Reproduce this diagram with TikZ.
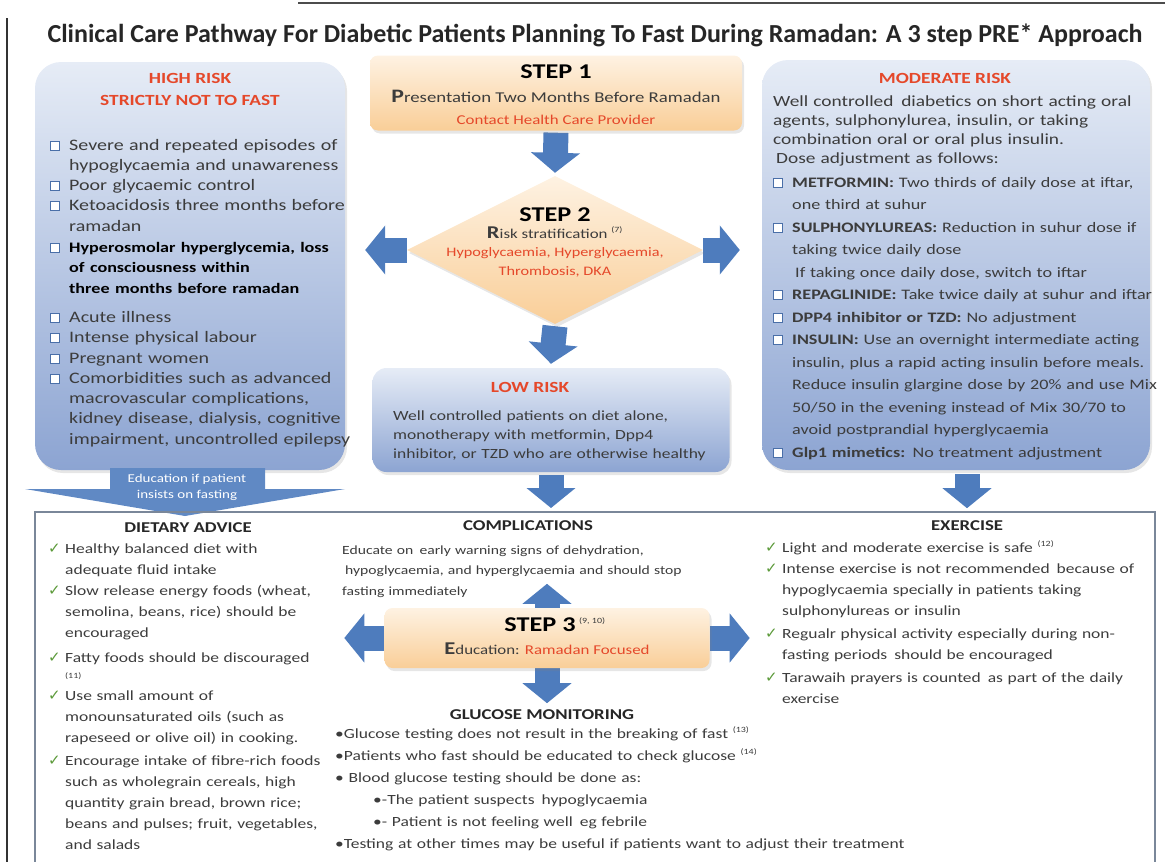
\documentclass[tikz,border=0pt]{standalone}
\usepackage{fontspec}
\setmainfont{Carlito}[FakeStretch=1.25]
\newfontfamily\titlefont{Carlito}
\newfontfamily\symfont{DejaVu Sans}
\usetikzlibrary{arrows.meta,shapes.geometric,shadows}
\pgfdeclarelayer{background}
\pgfsetlayers{background,main}

\definecolor{riskred}{HTML}{E5482A}
\definecolor{arrowblue}{HTML}{4E7CBD}
\definecolor{bluetop}{HTML}{E6ECF6}
\definecolor{bluebot}{HTML}{8CA4D2}
\definecolor{peachtop}{HTML}{FEF2E2}
\definecolor{peachbot}{HTML}{F9CE98}
\definecolor{bodytext}{HTML}{3C3C3C}
\definecolor{checkgreen}{HTML}{5C9A3A}
\definecolor{cbframe}{HTML}{4A6FA8}
\definecolor{framegray}{HTML}{7A8799}

\newcommand\fs[2]{\fontsize{#1}{#2}\selectfont}
\newcommand\cb{\raisebox{0.5pt}{\setlength\fboxsep{0pt}\setlength\fboxrule{1pt}\fcolorbox{cbframe}{white}{\rule{0pt}{8pt}\rule{8pt}{0pt}}}}
\newcommand\cbi{\makebox[19pt][l]{\cb}}
\newcommand\indw{\hspace*{19pt}}
\newcommand\ck{\makebox[17pt][l]{\symfont\fs{15}{15}\color{checkgreen}✓}}
\newcommand\refno[1]{\textsuperscript{\fs{8}{8}(#1)}}

\begin{document}
\begin{tikzpicture}[x=1pt,y=-1pt,
  bluebox/.style={rounded corners=26pt, top color=bluetop, bottom color=bluebot,
    drop shadow={opacity=0.2, shadow xshift=2pt, shadow yshift=-3pt}},
  peachbox/.style={rounded corners=8pt, top color=peachtop, bottom color=peachbot,
    drop shadow={opacity=0.2, shadow xshift=2pt, shadow yshift=-3pt}},
  blockarrow/.style={draw=arrowblue, line width=25pt, -{Triangle[width=48pt, length=20pt]}},
  body/.style={anchor=base west, align=left, text width=420pt, inner sep=0pt, text=bodytext},
  hdr/.style={anchor=base, inner sep=0pt, font=\bfseries\fs{15}{15}, text=black!85},
  redhdr/.style={hdr, font=\bfseries\fs{15.5}{15.5}, text=riskred},
  stephdr/.style={anchor=base, inner sep=0pt, font=\bfseries\fs{21}{21}, text=black},
  steptext/.style={anchor=base, inner sep=0pt, font=\fs{15}{15}, text=bodytext}]
\useasboundingbox (0,0) rectangle (1165,862);

% page lines and title
\draw[black!70, line width=2.5pt] (298,3) -- (1165,3);
\draw[black!80, line width=1.5pt] (7,18) -- (7,862);
\node[anchor=base, inner sep=0pt, font=\titlefont\bfseries\fs{26}{26}, text=black!85] (title) at (595,42)
  {Clinical Care Pathway For Diabetic Patients Planning To Fast During Ramadan: A 3 step PRE* Approach};

% boxes
\node[bluebox, minimum width=310pt, minimum height=408pt] (high) at (190,266) {};
\node[bluebox, minimum width=388pt, minimum height=410pt] (moderate) at (956,265) {};
\node[bluebox, rounded corners=14pt, minimum width=357pt, minimum height=104pt] (low) at (551,420) {};
\node[peachbox, minimum width=372pt, minimum height=75pt] (step1) at (556,93) {};
\node[diamond, top color=peachtop, bottom color=peachbot, minimum width=296pt, minimum height=148pt,
  drop shadow={opacity=0.2, shadow xshift=2pt, shadow yshift=-3pt}] (step2) at (555,250) {};
\node[peachbox, minimum width=325pt, minimum height=60pt] (step3) at (547,638) {};

% step texts
\node[stephdr] (s1head) at (556,78) {STEP 1};
\node[steptext] (s1text) at (556,102) {{\bfseries\fs{19}{19}P}resentation Two Months Before Ramadan};
\node[steptext, font=\fs{13.5}{13.5}, text=riskred] (s1sub) at (556,124) {Contact Health Care Provider};
\node[stephdr] (s2head) at (555,221) {STEP 2};
\node[steptext, font=\fs{13.5}{13.5}] (s2text) at (555,238) {{\bfseries\fs{18}{18}R}isk stratification \refno{7}};
\node[steptext, font=\fs{13}{13}, text=riskred] (s2risk) at (555,256) {Hypoglycaemia, Hyperglycaemia,};
\node[steptext, font=\fs{13}{13}, text=riskred] (s2dka) at (555,275) {Thrombosis, DKA};
\node[stephdr] (s3head) at (555,631) {STEP 3\,\textcolor{bodytext}{\mdseries\refno{9, 10}}};
\node[steptext, font=\fs{13.5}{13.5}] (s3text) at (547,654) {{\bfseries\fs{18}{18}E}ducation: \textcolor{riskred}{Ramadan Focused}};

% high risk
\node[redhdr] (hrhead) at (190,83) {HIGH RISK};
\node[redhdr] (hrsub) at (190,105) {STRICTLY NOT TO FAST};
\node[body, font=\fs{16}{20.3}] (hrlist) at (50,150) {%
  \cbi Severe and repeated episodes of\\
  \indw hypoglycaemia and unawareness\\
  \cbi Poor glycaemic control\\
  \cbi Ketoacidosis three months before\\
  \indw ramadan\\[1pt]
  \cbi {\fs{14.5}{20.3}\bfseries\color{black}Hyperosmolar hyperglycemia, loss}\\
  \indw {\fs{14.5}{20.3}\bfseries\color{black}of consciousness within}\\
  \indw {\fs{14.5}{20.3}\bfseries\color{black}three months before ramadan}\\[9pt]
  \cbi Acute illness\\
  \cbi Intense physical labour\\
  \cbi Pregnant women\\
  \cbi Comorbidities such as advanced\\
  \indw macrovascular complications,\\
  \indw kidney disease, dialysis, cognitive\\
  \indw impairment, uncontrolled epilepsy};

% moderate risk
\node[redhdr] (mrhead) at (945,83) {MODERATE RISK};
\node[body, font=\fs{15.5}{19.3}] (mrintro) at (773,106) {%
  Well controlled\, diabetics on short acting oral\\
  agents, sulphonylurea, insulin, or taking\\
  combination oral or oral plus insulin.\\
  \hspace*{3pt}Dose adjustment as follows:};
\node[body, font=\fs{14.5}{22.5}] (mrlist) at (773,187) {%
  \cbi \textbf{METFORMIN:} Two thirds of daily dose at iftar,\\
  \indw one third at suhur\\
  \cbi \textbf{SULPHONYLUREAS:} Reduction in suhur dose if\\
  \indw taking twice daily dose\\
  \hspace*{22pt}If taking once daily dose, switch to iftar\\
  \cbi \textbf{REPAGLINIDE:} Take twice daily at suhur and iftar\\
  \cbi \textbf{DPP4 inhibitor or TZD:} No adjustment\\
  \cbi \textbf{INSULIN:} Use an overnight intermediate acting\\
  \indw insulin, plus a rapid acting insulin before meals.\\
  \indw Reduce insulin glargine dose by 20\% and use Mix\\
  \indw 50/50 in the evening instead of Mix 30/70 to\\
  \indw avoid postprandial hyperglycaemia\\
  \cbi \textbf{Glp1 mimetics:} No treatment adjustment};

% low risk
\node[redhdr] (lrhead) at (530,392) {LOW RISK};
\node[body, font=\fs{14}{19}] (lrtext) at (393,420) {%
  Well controlled patients on diet alone,\\
  monotherapy with metformin, Dpp4\\
  inhibitor, or TZD who are otherwise healthy};

% education arrow
\fill[arrowblue!90] (110,468) -- (265,468) -- (265,489) -- (345,489) -- (185,516) -- (25,489) -- (110,489) -- cycle;
\node[anchor=base, inner sep=0pt, font=\fs{12}{12}, text=white] (edu1) at (187,482) {Education if patient};
\node[anchor=base, inner sep=0pt, font=\fs{12}{12}, text=white] (edu2) at (187,498) {insists on fasting};

% bottom frame
\coordinate (frametop) at (595,512);
\draw[framegray, line width=2.2pt] (35,880) -- (35,512) -- (1155,512) -- (1155,880);

% dietary advice
\node[hdr] (dahead) at (188,532) {DIETARY ADVICE};
\node[body, font=\fs{14}{21}] (dalist) at (48,553) {%
  \ck Healthy balanced diet with\\
  \hspace*{17pt}adequate fluid intake\\
  \ck Slow release energy foods (wheat,\\
  \hspace*{17pt}semolina, beans, rice) should be\\
  \hspace*{17pt}encouraged\\[4pt]
  \ck Fatty foods should be discouraged\\[-5pt]
  \hspace*{17pt}{\fs{8}{8}(11)}\\[1pt]
  \ck Use small amount of\\
  \hspace*{17pt}monounsaturated oils (such as\\
  \hspace*{17pt}rapeseed or olive oil) in cooking.\\[2pt]
  \ck Encourage intake of fibre-rich foods\\
  \hspace*{17pt}such as wholegrain cereals, high\\
  \hspace*{17pt}quantity grain bread, brown rice;\\
  \hspace*{17pt}beans and pulses; fruit, vegetables,\\
  \hspace*{17pt}and salads};

% complications
\node[hdr] (cphead) at (528,530) {COMPLICATIONS};
\node[body, font=\fs{12.5}{20.5}] (cptext) at (342,554) {%
  Educate on\, early warning signs of dehydration,\\
  \hspace*{3pt}hypoglycaemia, and hyperglycaemia and should stop\\
  fasting immediately};

% glucose monitoring
\node[hdr] (gmhead) at (542,719) {GLUCOSE MONITORING};
\node[body, font=\fs{14}{22}, text width=640pt] (gmtext) at (335,738) {%
  •Glucose testing does not result in the breaking of fast \refno{13}\\
  •Patients who fast should be educated to check glucose \refno{14}\\
  • Blood glucose testing should be done as:\\
  \hspace*{38pt}•-The patient suspects\, hypoglycaemia\\
  \hspace*{38pt}•- Patient is not feeling well\, eg febrile\\
  •Testing at other times may be useful if patients want to adjust their treatment};

% exercise
\node[hdr] (exhead) at (967,530) {EXERCISE};
\node[body, font=\fs{14}{21}] (exlist) at (765,552) {%
  \ck Light and moderate exercise is safe \refno{12}\\
  \ck Intense exercise is not recommended\, because of\\
  \hspace*{17pt}hypoglycaemia specially in patients taking\\
  \hspace*{17pt}sulphonylureas or insulin\\[2pt]
  \ck Regualr physical activity especially during non-\\
  \hspace*{17pt}fasting periods\, should be encouraged\\[2pt]
  \ck Tarawaih prayers is counted\, as part of the daily\\
  \hspace*{17pt}exercise};

% arrows
\begin{pgfonlayer}{background}
\draw[blockarrow] ([yshift=-2pt]step1.south) -- ([yshift=3pt]step2.north);
\draw[blockarrow] ([yshift=-2pt]step2.south) -- ([yshift=4pt]low.north);
\draw[blockarrow, shorten >=20pt] (step2.west) -- (step2.west -| high.east);
\draw[blockarrow, shorten >=22pt] (step2.east) -- (step2.east -| moderate.west);
\draw[blockarrow, shorten >=4pt] ([yshift=-3pt]low.south) -- (low.south |- frametop);
\draw[blockarrow] ([xshift=11pt,yshift=-4pt]moderate.south) -- ++(0,34);
\draw[blockarrow] (step3.north) -- ++(0,-24);
\draw[blockarrow] (step3.west) -- ++(-40,0);
\draw[blockarrow] (step3.east) -- ++(40,0);
\draw[blockarrow] (step3.south) -- ++(0,35);
\end{pgfonlayer}
\end{tikzpicture}
\end{document}
